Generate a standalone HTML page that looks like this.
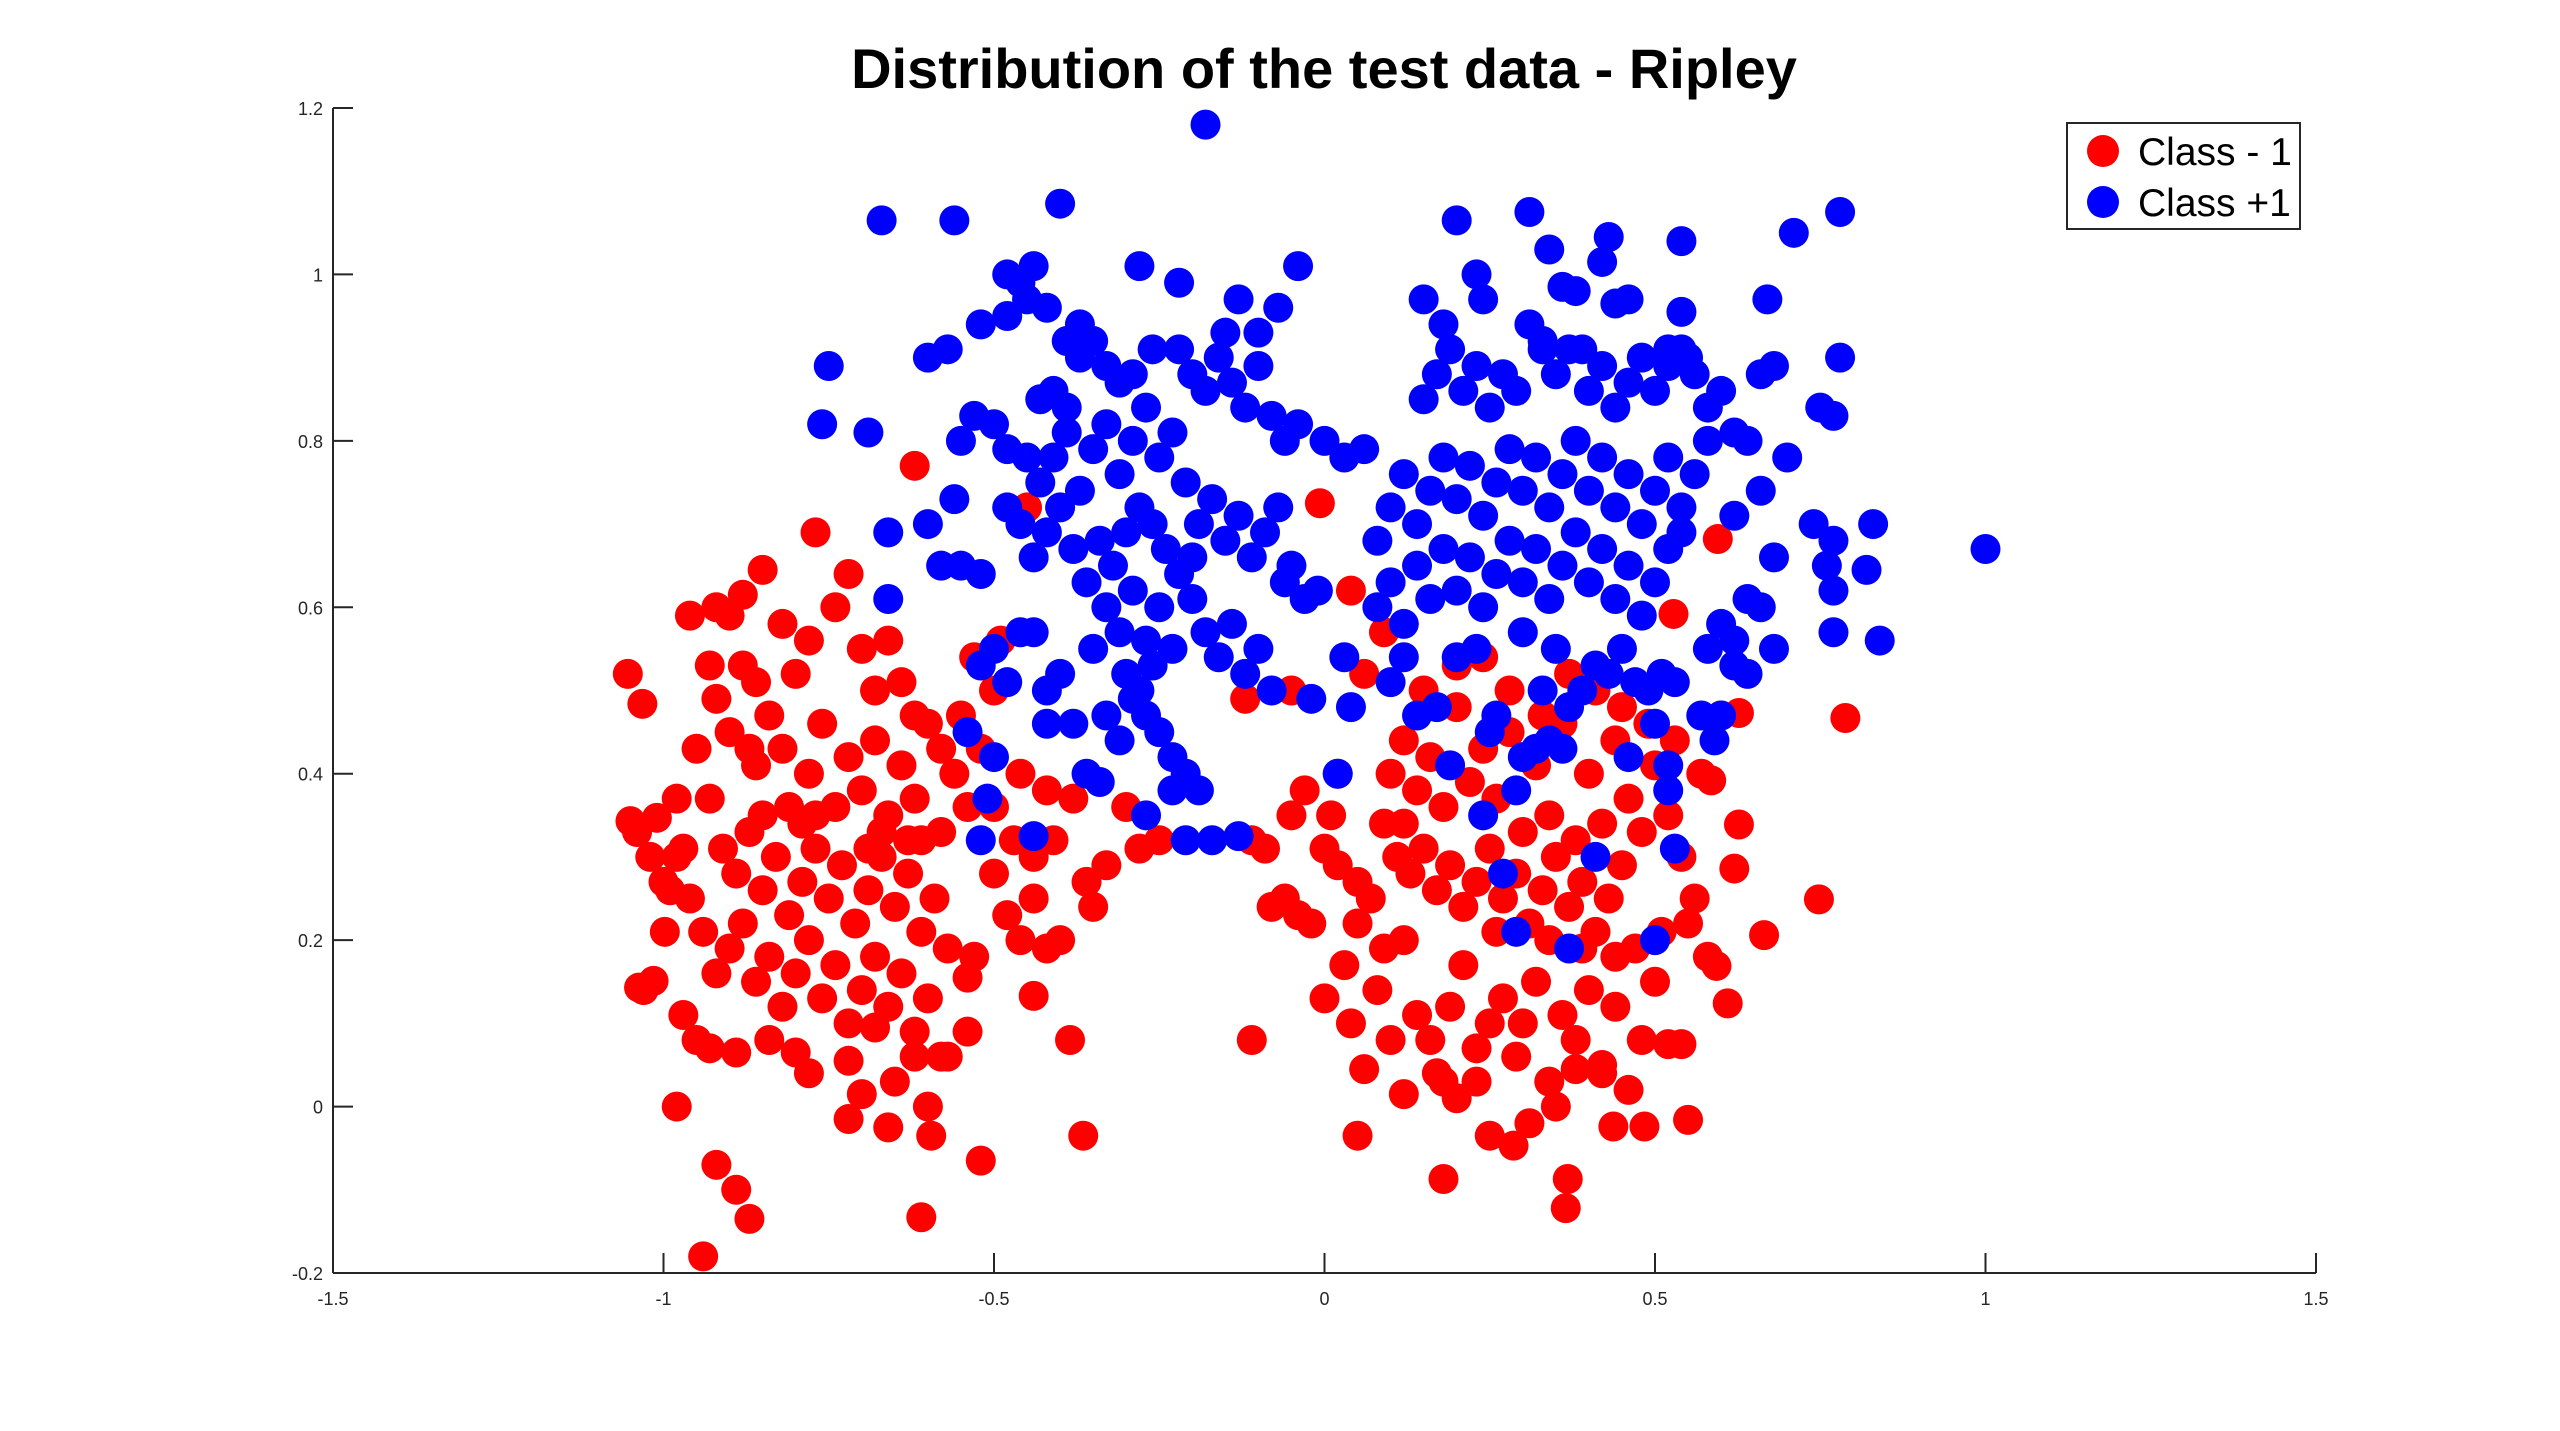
<!DOCTYPE html>
<html><head><meta charset="utf-8"><style>
html,body{margin:0;padding:0;background:#fff;}
svg{display:block;font-family:"Liberation Sans",Arial,sans-serif;}
</style></head><body>
<svg id="chart" width="2560" height="1431" viewBox="0 0 2560 1431" xmlns="http://www.w3.org/2000/svg">
<rect width="2560" height="1431" fill="#fff"/>
<text x="1324" y="88" text-anchor="middle" font-size="56" font-weight="bold" fill="#000">Distribution of the test data - Ripley</text>
<g id="axes"></g>
<g id="marks"></g>
<g>
<rect x="2067" y="123" width="233" height="106" fill="#fff" stroke="#262626" stroke-width="2"/>
<circle cx="2103" cy="151" r="16" fill="#f00"/>
<text x="2138" y="165" font-size="39" fill="#000">Class - 1</text>
<circle cx="2103" cy="202" r="16" fill="#00f"/>
<text x="2138" y="216" font-size="39" fill="#000">Class +1</text>
</g>
</svg>
<script>
const xTicks=[-1.5,-1,-0.5,0,0.5,1,1.5];
const xTickLabels=["-1.5","-1","-0.5","0","0.5","1","1.5"];
const yTicks=[-0.2,0,0.2,0.4,0.6,0.8,1,1.2];
const yTickLabels=["-0.2","0","0.2","0.4","0.6","0.8","1","1.2"];
const redPoints=[[-1.054,0.52],[-1.032,0.484],[-1.05,0.343],[-1.04,0.33],[-1.01,0.347],[-1.037,0.143],[-1.015,0.151],[-0.998,0.21],[-0.98,0.0],[-0.94,-0.18],[-0.92,-0.07],[-0.89,-0.10],[-0.87,-0.135],[-0.61,-0.133],[-0.52,-0.065],[-0.595,-0.035],[-0.66,-0.025],[-0.72,-0.015],[-0.365,-0.035],[-0.385,0.08],[-0.44,0.133],[-0.62,0.77],[-0.77,0.69],[-0.85,0.645],[-0.96,0.59],[-0.92,0.60],[-0.88,0.615],[-0.007,0.725],[-0.11,0.08],[0.05,-0.035],[0.18,-0.087],[0.286,-0.047],[0.365,-0.122],[0.368,-0.087],[0.55,-0.016],[0.484,-0.024],[0.437,-0.024],[0.788,0.467],[0.748,0.249],[0.665,0.206],[0.61,0.124],[0.593,0.169],[0.62,0.286],[0.627,0.339],[0.627,0.473],[0.595,0.682],[0.528,0.592],[0.585,0.392],
[-0.95,0.43],[-0.93,0.37],[-0.91,0.31],[-0.89,0.28],[-0.87,0.33],[-0.85,0.26],[-0.83,0.30],[-0.81,0.23],[-0.79,0.27],[-0.77,0.31],[-0.75,0.25],[-0.73,0.29],[-0.71,0.22],[-0.69,0.26],[-0.67,0.30],[-0.65,0.24],[-0.63,0.28],[-0.61,0.21],[-0.59,0.25],[-0.57,0.19],
[-0.96,0.25],[-0.94,0.21],[-0.92,0.16],[-0.90,0.19],[-0.88,0.22],[-0.86,0.15],[-0.84,0.18],[-0.82,0.12],[-0.80,0.16],[-0.78,0.20],[-0.76,0.13],[-0.74,0.17],[-0.72,0.10],[-0.70,0.14],[-0.68,0.18],[-0.66,0.12],[-0.64,0.16],[-0.62,0.09],[-0.60,0.13],[-0.58,0.06],
[-0.97,0.11],[-0.95,0.08],[-0.93,0.07],[-0.89,0.065],[-0.84,0.08],[-0.80,0.065],[-0.78,0.04],[-0.72,0.055],[-0.70,0.015],[-0.68,0.095],[-0.65,0.03],[-0.62,0.06],[-0.60,0.0],[-0.57,0.06],[-0.54,0.09],[-0.54,0.155],[-0.53,0.18],
[-0.92,0.49],[-0.90,0.45],[-0.88,0.53],[-0.86,0.41],[-0.84,0.47],[-0.82,0.43],[-0.80,0.52],[-0.78,0.40],[-0.76,0.46],[-0.74,0.36],[-0.72,0.42],[-0.70,0.38],[-0.68,0.44],[-0.66,0.35],[-0.64,0.41],[-0.62,0.37],[-0.60,0.46],[-0.58,0.33],[-0.56,0.40],[-0.54,0.36],
[-0.93,0.53],[-0.90,0.59],[-0.86,0.51],[-0.82,0.58],[-0.78,0.56],[-0.74,0.60],[-0.72,0.64],[-0.70,0.55],[-0.68,0.50],[-0.66,0.56],[-0.64,0.51],[-0.62,0.47],[-0.58,0.43],[-0.55,0.47],[-0.52,0.43],[-0.50,0.50],[-0.49,0.56],[-0.53,0.54],[-0.46,0.40],[-0.44,0.30],
[-0.50,0.28],[-0.48,0.23],[-0.46,0.20],[-0.44,0.25],[-0.42,0.19],[-0.40,0.20],[-0.41,0.32],[-0.38,0.37],[-0.36,0.27],[-0.35,0.24],[-0.33,0.29],[-0.30,0.36],[-0.28,0.31],[-0.50,0.36],[-0.47,0.32],
[-1.02,0.30],[-1.00,0.27],[-0.99,0.26],[-0.98,0.30],[-0.97,0.31],[-1.03,0.14],[-0.98,0.37],[-0.85,0.35],[-0.87,0.43],[-0.81,0.36],[-0.79,0.34],[-0.77,0.35],[-0.69,0.31],[-0.67,0.33],[-0.63,0.32],[-0.61,0.32],
[0.02,0.40],[0.01,0.35],[0.00,0.31],[0.02,0.29],[0.05,0.27],[0.07,0.25],[0.05,0.22],[0.03,0.17],[0.00,0.13],[-0.02,0.22],[-0.04,0.23],[-0.06,0.25],[-0.08,0.24],[-0.09,0.31],[-0.11,0.32],[-0.05,0.35],[-0.03,0.38],
[0.09,0.34],[0.11,0.30],[0.13,0.28],[0.15,0.31],[0.17,0.26],[0.19,0.29],[0.21,0.24],[0.23,0.27],[0.25,0.31],[0.27,0.25],[0.29,0.28],[0.31,0.22],[0.33,0.26],[0.35,0.30],[0.37,0.24],[0.39,0.27],[0.41,0.21],[0.43,0.25],[0.45,0.29],
[0.10,0.40],[0.12,0.44],[0.14,0.38],[0.16,0.42],[0.18,0.36],[0.20,0.48],[0.22,0.39],[0.24,0.43],[0.26,0.37],[0.28,0.45],[0.30,0.33],[0.32,0.41],[0.34,0.35],[0.36,0.46],[0.38,0.32],[0.40,0.40],[0.42,0.34],[0.44,0.44],[0.46,0.37],[0.48,0.33],[0.50,0.41],[0.52,0.35],[0.54,0.30],[0.56,0.25],[0.58,0.18],
[0.08,0.14],[0.09,0.19],[0.12,0.20],[0.14,0.11],[0.16,0.08],[0.17,0.04],[0.19,0.12],[0.21,0.17],[0.23,0.07],[0.25,0.10],[0.27,0.13],[0.29,0.06],[0.30,0.10],[0.32,0.15],[0.34,0.03],[0.36,0.11],[0.38,0.08],[0.40,0.14],[0.42,0.05],[0.44,0.12],[0.46,0.02],[0.48,0.08],[0.50,0.15],[0.52,0.075],[0.54,0.075],[0.47,0.19],
[0.20,0.01],[0.23,0.03],[0.25,-0.035],[0.31,-0.02],[0.35,0.0],[0.38,0.045],[0.42,0.04],[0.06,0.045],[0.04,0.10],[0.10,0.08],[0.12,0.015],[0.18,0.03],
[0.20,0.53],[0.24,0.54],[0.28,0.50],[0.33,0.47],[0.37,0.52],[0.41,0.50],[0.45,0.48],[0.49,0.46],[0.53,0.44],[0.57,0.40],[0.60,0.47],[0.15,0.50],[0.06,0.52],[0.09,0.57],[0.04,0.62],[-0.05,0.50],[0.12,0.34],[0.26,0.21],[0.34,0.20],[0.39,0.19],[0.44,0.18],[0.51,0.21],[0.55,0.22],
[-0.42,0.38],[-0.25,0.32],[-0.12,0.49],[-0.45,0.72]];
const bluePoints=[[-0.35,0.55],[-0.33,0.60],[-0.31,0.57],[-0.29,0.62],[-0.27,0.56],[-0.25,0.60],[-0.23,0.55],[-0.30,0.52],[-0.28,0.50],[-0.26,0.53],[-0.32,0.65],[-0.34,0.68],[-0.36,0.63],[-0.38,0.67],[-0.40,0.72],[-0.42,0.69],[-0.44,0.66],[-0.46,0.70],[-0.48,0.72],[-0.43,0.75],[-0.41,0.78],[-0.39,0.81],[-0.37,0.74],[-0.35,0.79],[-0.33,0.82],[-0.31,0.76],[-0.29,0.80],[-0.27,0.84],[-0.25,0.78],[-0.23,0.81],[-0.21,0.75],[-0.19,0.70],[-0.17,0.73],[-0.15,0.68],[-0.13,0.71],[-0.11,0.66],[-0.09,0.69],[-0.07,0.72],[-0.05,0.65],[-0.03,0.61],[-0.01,0.62],
[-0.24,0.67],[-0.22,0.64],[-0.20,0.61],[-0.18,0.57],[-0.16,0.54],[-0.14,0.58],[-0.12,0.52],[-0.10,0.55],[-0.08,0.50],[-0.06,0.63],[-0.26,0.70],[-0.28,0.72],[-0.30,0.69],[-0.20,0.66],
[-0.33,0.47],[-0.31,0.44],[-0.29,0.49],[-0.27,0.47],[-0.25,0.45],[-0.23,0.42],[-0.21,0.40],[-0.19,0.38],[-0.21,0.32],[-0.17,0.32],[-0.13,0.325],[-0.27,0.35],[-0.23,0.38],[-0.34,0.39],[-0.36,0.40],[-0.38,0.46],[-0.40,0.52],[-0.42,0.50],[-0.44,0.57],[-0.46,0.57],[-0.48,0.51],[-0.50,0.55],[-0.52,0.53],[-0.54,0.45],[-0.51,0.37],[-0.52,0.32],[-0.44,0.325],[-0.50,0.42],[-0.42,0.46],
[-0.52,0.64],[-0.55,0.65],[-0.58,0.65],[-0.60,0.70],[-0.56,0.73],[-0.55,0.80],[-0.53,0.83],[-0.50,0.82],[-0.48,0.79],[-0.45,0.78],[-0.43,0.85],[-0.41,0.86],[-0.39,0.84],[-0.37,0.90],[-0.35,0.92],[-0.33,0.89],[-0.31,0.87],[-0.29,0.88],[-0.26,0.91],[-0.22,0.91],[-0.20,0.88],[-0.18,0.86],[-0.16,0.90],[-0.14,0.87],[-0.12,0.84],[-0.10,0.89],[-0.08,0.83],[-0.06,0.80],[-0.04,0.82],
[-0.60,0.90],[-0.57,0.91],[-0.52,0.94],[-0.48,0.95],[-0.46,0.99],[-0.44,1.01],[-0.42,0.96],[-0.39,0.92],[-0.37,0.94],[-0.48,1.0],[-0.45,0.97],[-0.40,1.085],[-0.56,1.065],[-0.67,1.065],[-0.75,0.89],[-0.76,0.82],[-0.69,0.81],[-0.66,0.69],[-0.66,0.61],[-0.28,1.01],[-0.22,0.99],[-0.18,1.18],[-0.04,1.01],[-0.07,0.96],[-0.13,0.97],[-0.15,0.93],[-0.10,0.93],[0.00,0.80],[0.03,0.78],[-0.02,0.49],[0.02,0.40],[0.03,0.54],[0.04,0.48],
[0.06,0.79],[0.08,0.68],[0.10,0.72],[0.12,0.76],[0.14,0.70],[0.16,0.74],[0.18,0.78],[0.20,0.73],[0.22,0.77],[0.24,0.71],[0.26,0.75],[0.28,0.79],[0.30,0.74],[0.32,0.78],[0.34,0.72],[0.36,0.76],[0.38,0.80],[0.40,0.74],[0.42,0.78],[0.44,0.72],[0.46,0.76],[0.48,0.70],[0.50,0.74],[0.52,0.78],[0.54,0.72],[0.56,0.76],[0.58,0.80],
[0.08,0.60],[0.10,0.63],[0.12,0.58],[0.14,0.65],[0.16,0.61],[0.18,0.67],[0.20,0.62],[0.22,0.66],[0.24,0.60],[0.26,0.64],[0.28,0.68],[0.30,0.63],[0.32,0.67],[0.34,0.61],[0.36,0.65],[0.38,0.69],[0.40,0.63],[0.42,0.67],[0.44,0.61],[0.46,0.65],[0.48,0.59],[0.50,0.63],[0.52,0.67],[0.54,0.69],
[0.10,0.51],[0.12,0.54],[0.17,0.48],[0.20,0.54],[0.23,0.55],[0.26,0.47],[0.30,0.57],[0.33,0.50],[0.35,0.55],[0.37,0.48],[0.39,0.50],[0.41,0.53],[0.43,0.52],[0.45,0.55],[0.47,0.51],[0.49,0.50],[0.51,0.52],[0.53,0.51],[0.57,0.47],[0.60,0.47],[0.62,0.53],[0.64,0.52],[0.58,0.55],[0.60,0.58],
[0.14,0.47],[0.19,0.41],[0.24,0.35],[0.25,0.45],[0.29,0.38],[0.30,0.42],[0.32,0.43],[0.34,0.44],[0.36,0.43],[0.41,0.30],[0.27,0.28],[0.29,0.21],[0.37,0.19],[0.50,0.20],[0.53,0.31],[0.52,0.41],[0.52,0.38],[0.46,0.42],[0.59,0.44],[0.50,0.46],
[0.15,0.85],[0.17,0.88],[0.19,0.91],[0.21,0.86],[0.23,0.89],[0.25,0.84],[0.27,0.88],[0.29,0.86],[0.33,0.91],[0.35,0.88],[0.37,0.91],[0.40,0.86],[0.42,0.89],[0.44,0.84],[0.46,0.87],[0.48,0.90],[0.50,0.86],[0.52,0.89],[0.54,0.91],[0.56,0.88],[0.58,0.84],[0.60,0.86],[0.62,0.81],[0.64,0.80],[0.66,0.88],[0.68,0.89],[0.70,0.78],[0.68,0.66],[0.66,0.74],[0.62,0.71],[0.66,0.60],[0.64,0.61],[0.62,0.56],[0.68,0.55],[0.74,0.70],[0.76,0.65],[0.77,0.68],[0.77,0.62],[0.77,0.57],[0.75,0.84],[0.77,0.83],[0.78,0.90],[0.83,0.70],[0.82,0.645],[0.84,0.56],[1.0,0.67],
[0.15,0.97],[0.18,0.94],[0.23,1.0],[0.24,0.97],[0.20,1.065],[0.31,1.075],[0.34,1.03],[0.36,0.985],[0.38,0.98],[0.43,1.045],[0.42,1.015],[0.44,0.965],[0.46,0.97],[0.31,0.94],[0.33,0.92],[0.39,0.91],[0.54,1.04],[0.54,0.955],[0.67,0.97],[0.71,1.05],[0.78,1.075],[0.52,0.91],[0.55,0.90]];

const NS="http://www.w3.org/2000/svg";
const L=333,R=2316,T=108,B=1273;
const xMin=-1.5,xMax=1.5,yMin=-0.2,yMax=1.2;
function sx(v){return L+(v-xMin)/(xMax-xMin)*(R-L);}
function sy(v){return B-(v-yMin)/(yMax-yMin)*(B-T);}
function mk(tag,attrs){const e=document.createElementNS(NS,tag);for(const k in attrs)e.setAttribute(k,attrs[k]);return e;}
const axes=document.getElementById('axes');
const xl=mk('line',{x1:L,y1:B,x2:R,y2:B,stroke:'#262626','stroke-width':2});


axes.appendChild(xl);
const yl=mk('line',{x1:L,y1:T,x2:L,y2:B,stroke:'#262626','stroke-width':2});


axes.appendChild(yl);
xTicks.forEach((v,i)=>{
  const t=mk('line',{x1:sx(v),y1:B,x2:sx(v),y2:B-20,stroke:'#262626','stroke-width':2});
  
  
  axes.appendChild(t);
  const tx=mk('text',{x:sx(v),y:B+32,'text-anchor':'middle','font-size':18,fill:'#262626'});
  
  
  tx.textContent=xTickLabels[i];axes.appendChild(tx);
});
yTicks.forEach((v,i)=>{
  const t=mk('line',{x1:L,y1:sy(v),x2:L+20,y2:sy(v),stroke:'#262626','stroke-width':2});
  
  
  axes.appendChild(t);
  const tx=mk('text',{x:L-10,y:sy(v)+7,'text-anchor':'end','font-size':18,fill:'#262626'});
  
  
  tx.textContent=yTickLabels[i];axes.appendChild(tx);
});
const marks=document.getElementById('marks');
redPoints.forEach(p=>{
  const c=mk('circle',{cx:sx(p[0]),cy:sy(p[1]),r:15,fill:'#f00'});
  
  
  marks.appendChild(c);
});
bluePoints.forEach(p=>{
  const c=mk('circle',{cx:sx(p[0]),cy:sy(p[1]),r:15,fill:'#00f'});
  
  
  marks.appendChild(c);
});
</script>
</body></html>
